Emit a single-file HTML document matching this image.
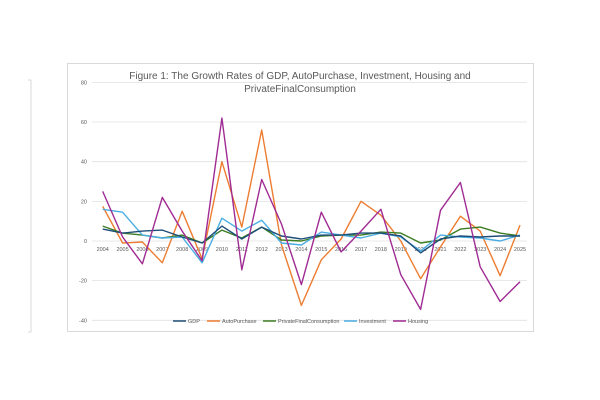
<!DOCTYPE html>
<html><head><meta charset="utf-8"><style>
html,body{margin:0;padding:0;background:#fff;width:600px;height:400px;overflow:hidden}
text{font-family:"Liberation Sans",sans-serif}
</style></head><body>
<svg id="s" width="600" height="400" xmlns="http://www.w3.org/2000/svg">
<path d="M28 80 H31 V332 H28" fill="none" stroke="#d0d0d0" stroke-width="0.8"/>
<rect x="67.5" y="63.5" width="466" height="268" fill="#fff" stroke="#d9d9d9" stroke-width="1"/>
<text x="300" y="79" font-size="10" text-anchor="middle" fill="#595959">Figure 1: The Growth Rates of GDP, AutoPurchase, Investment, Housing and</text>
<text x="300" y="92" font-size="10" text-anchor="middle" fill="#595959">PrivateFinalConsumption</text>
<g id="grid"></g>
<g id="lines"></g>
<g font-size="5.5" fill="#595959">
<line x1="173" y1="321" x2="186" y2="321" stroke="#1f4e79" stroke-width="1.5"/><text x="188" y="323">GDP</text>
<line x1="207" y1="321" x2="220" y2="321" stroke="#ed7d31" stroke-width="1.5"/><text x="222" y="323">AutoPurchase</text>
<line x1="263" y1="321" x2="276" y2="321" stroke="#3a7d22" stroke-width="1.5"/><text x="278" y="323">PrivateFinalConsumption</text>
<line x1="344" y1="321" x2="357" y2="321" stroke="#4aaee3" stroke-width="1.5"/><text x="359" y="323">Investment</text>
<line x1="393" y1="321" x2="406" y2="321" stroke="#a02b93" stroke-width="1.5"/><text x="408" y="323">Housing</text>
</g>
</svg>
<script>
var ns="http://www.w3.org/2000/svg";
function Y(v){return 241-v*1.983;}
function X(i){return 102.7+i*19.87;}
var g=document.getElementById('grid'),L=document.getElementById('lines');
function el(p,t,a){var e=document.createElementNS(ns,t);for(var k in a)e.setAttribute(k,a[k]);p.appendChild(e);return e;}
for(var v=-40;v<=80;v+=20){var y=Y(v);
el(g,'line',{x1:92,x2:527,y1:y,y2:y,stroke:'#e0e0e0','stroke-width':0.8});
var t=el(g,'text',{x:87,y:y+2,'font-size':5.5,'text-anchor':'end',fill:'#595959'});t.textContent=v;}
for(var i=0;i<22;i++){var t=el(g,'text',{x:X(i),y:251,'font-size':5.5,'text-anchor':'middle',fill:'#595959'});t.textContent=2004+i;}
var S=[
['#ed7d31',[17.5,-1,-0.5,-11,15,-9,40,7,56,-2,-32.5,-9.5,1,20,13,0,-19,-3,12.5,5,-17.5,8]],
['#3a7d22',[7.5,4,3,1.5,3,-1,5.5,1.5,7,0.5,0,2.5,3,3,4.5,4,-1,0.5,6,7,4,2.5]],
['#4aaee3',[16,14.5,3,1.5,2,-11,11.5,5,10.5,-1,-2,4.5,3,1.5,4,2,-5,3,2,1.5,0,3]],
['#1f4e79',[6,4,5,5.5,2,-1,7.5,1,7,2.5,1,3,3,4,4,2.5,-6,1,2.5,2,2.5,2.5]],
['#a02b93',[25,2,-11.5,22,5,-10,62,-14.5,31,8.5,-22,14.5,-5.5,5,16,-17,-34.5,15.5,29.5,-13,-30.5,-20.5]]];
S.forEach(function(s){var p=s[1].map(function(v,i){return X(i).toFixed(1)+','+Y(v).toFixed(1)}).join(' ');
el(L,'polyline',{points:p,fill:'none',stroke:s[0],'stroke-width':1.4,'stroke-linejoin':'round'});});
</script>
</body></html>
